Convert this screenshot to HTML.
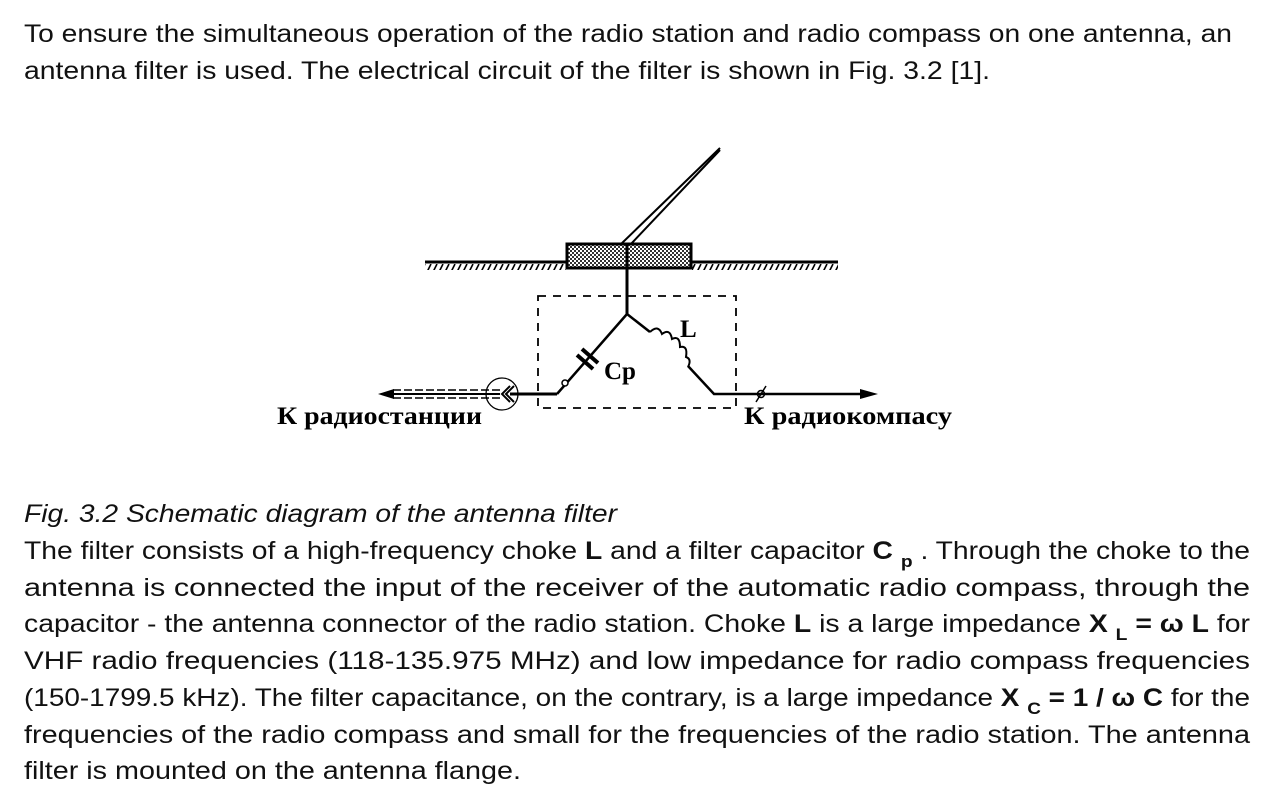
<!DOCTYPE html>
<html><head><meta charset="utf-8"><style>
html,body{margin:0;padding:0;background:#fff;}
svg{display:block}
.t{font-family:"Liberation Sans",sans-serif;font-size:25px;fill:#111;}
.b{font-weight:bold}
.s{font-size:17px;font-weight:bold}
.r{font-family:"Liberation Serif","DejaVu Serif",serif;font-weight:bold;font-size:25px;fill:#000}
</style></head><body>
<svg width="1273" height="805" viewBox="0 0 1273 805" xmlns="http://www.w3.org/2000/svg">
<defs>
<pattern id="mesh" width="4" height="4" patternUnits="userSpaceOnUse">
<rect width="4" height="4" fill="#fff"/><rect width="2" height="2" fill="#333"/><rect x="2" y="2" width="2" height="2" fill="#333"/>
</pattern>
<pattern id="hatch" width="6" height="8" patternUnits="userSpaceOnUse">
<line x1="5" y1="0" x2="1" y2="8" stroke="#000" stroke-width="1.6"/>
</pattern>
</defs>
<text class="t" x="24" y="42" textLength="1208" lengthAdjust="spacingAndGlyphs">To ensure the simultaneous operation of the radio station and radio compass on one antenna, an</text>
<text class="t" x="24" y="79" textLength="966" lengthAdjust="spacingAndGlyphs">antenna filter is used. The electrical circuit of the filter is shown in Fig. 3.2 [1].</text>

<g fill="none" stroke="#000">
<line x1="720" y1="148" x2="620" y2="245" stroke-width="2"/>
<line x1="720" y1="150" x2="630" y2="245" stroke-width="2"/>
<rect x="425" y="264" width="141" height="6" fill="url(#hatch)" stroke="none"/>
<rect x="692" y="264" width="146" height="6" fill="url(#hatch)" stroke="none"/>
<line x1="425" y1="262" x2="838" y2="262" stroke-width="3"/>
<rect x="567" y="244" width="124" height="24" fill="url(#mesh)" stroke-width="3"/>
<line x1="627" y1="244" x2="627" y2="314" stroke-width="3"/>
<rect x="538" y="296" width="198" height="112" stroke-width="1.8" stroke-dasharray="8,7"/>
<polyline points="557,394 627,314 650,332" stroke-width="2.5"/>
<path d="M650,332 q8,-8 12,2 q8,-6 10,5 q8,-4 8,8 q8,-2 6,10 q6,2 2,10" stroke-width="2"/>
<polyline points="688,366 714,394 870,394" stroke-width="2.5"/>
<polygon points="878,394 860,389 860,399" fill="#000" stroke="none"/>
<line x1="756" y1="402" x2="766" y2="386" stroke-width="1.5"/>
<circle cx="761" cy="394" r="3.5" stroke-width="1.5"/>
<line x1="577" y1="355" x2="593" y2="369" stroke-width="4"/>
<line x1="582" y1="349" x2="598" y2="363" stroke-width="4"/>
<circle cx="565" cy="383" r="3" stroke-width="1.5" fill="#fff"/>
<line x1="557" y1="394" x2="510" y2="394" stroke-width="3"/>
<circle cx="502" cy="394" r="16" stroke-width="1.3"/>
<polyline points="510,386 502,394 510,402" stroke-width="2"/>
<polyline points="514,386 506,394 514,402" stroke-width="2"/>
<line x1="500" y1="390" x2="390" y2="390" stroke-width="1.5" stroke-dasharray="8,3"/>
<line x1="500" y1="398" x2="390" y2="398" stroke-width="1.5" stroke-dasharray="8,3"/>
<line x1="500" y1="394" x2="388" y2="394" stroke-width="2"/>
<polygon points="378,394 394,389 394,399" fill="#000" stroke="none"/>
</g>
<text class="r" x="680" y="337" font-size="23">L</text>
<text class="r" x="604" y="379" font-size="26">Cp</text>
<text class="r" x="277" y="424" textLength="205" lengthAdjust="spacingAndGlyphs">К радиостанции</text>
<text class="r" x="744" y="424" textLength="208" lengthAdjust="spacingAndGlyphs">К радиокомпасу</text>

<text class="t" x="24" y="522" font-style="italic" textLength="593" lengthAdjust="spacingAndGlyphs">Fig. 3.2 Schematic diagram of the antenna filter</text>
<text class="t" x="24" y="559" textLength="1226" lengthAdjust="spacingAndGlyphs">The filter consists of a high-frequency choke <tspan class="b">L</tspan> and a filter capacitor <tspan class="b">C</tspan> <tspan class="s" dy="8">p</tspan><tspan dy="-8"> . Through the choke to the</tspan></text>
<text class="t" x="24" y="596" textLength="1226" lengthAdjust="spacingAndGlyphs">antenna  is  connected  the  input  of  the  receiver  of  the  automatic  radio  compass,  through  the</text>
<text class="t" x="24" y="632" textLength="1226" lengthAdjust="spacingAndGlyphs">capacitor - the antenna connector of the radio station. Choke <tspan class="b">L</tspan> is a large impedance <tspan class="b">X</tspan> <tspan class="s" dy="8">L</tspan><tspan class="b" dy="-8"> = ω L</tspan> for</text>
<text class="t" x="24" y="669" textLength="1226" lengthAdjust="spacingAndGlyphs">VHF  radio  frequencies  (118-135.975  MHz)  and  low  impedance  for  radio  compass  frequencies</text>
<text class="t" x="24" y="706" textLength="1226" lengthAdjust="spacingAndGlyphs">(150-1799.5 kHz). The filter capacitance, on the contrary, is a large impedance <tspan class="b">X</tspan> <tspan class="s" dy="8">C</tspan><tspan class="b" dy="-8"> = 1 / ω C</tspan> for the</text>
<text class="t" x="24" y="743" textLength="1226" lengthAdjust="spacingAndGlyphs">frequencies  of  the  radio  compass  and  small  for  the  frequencies  of  the  radio  station.  The  antenna</text>
<text class="t" x="24" y="779" textLength="497" lengthAdjust="spacingAndGlyphs">filter is mounted on the antenna flange.</text>
</svg>
</body></html>
